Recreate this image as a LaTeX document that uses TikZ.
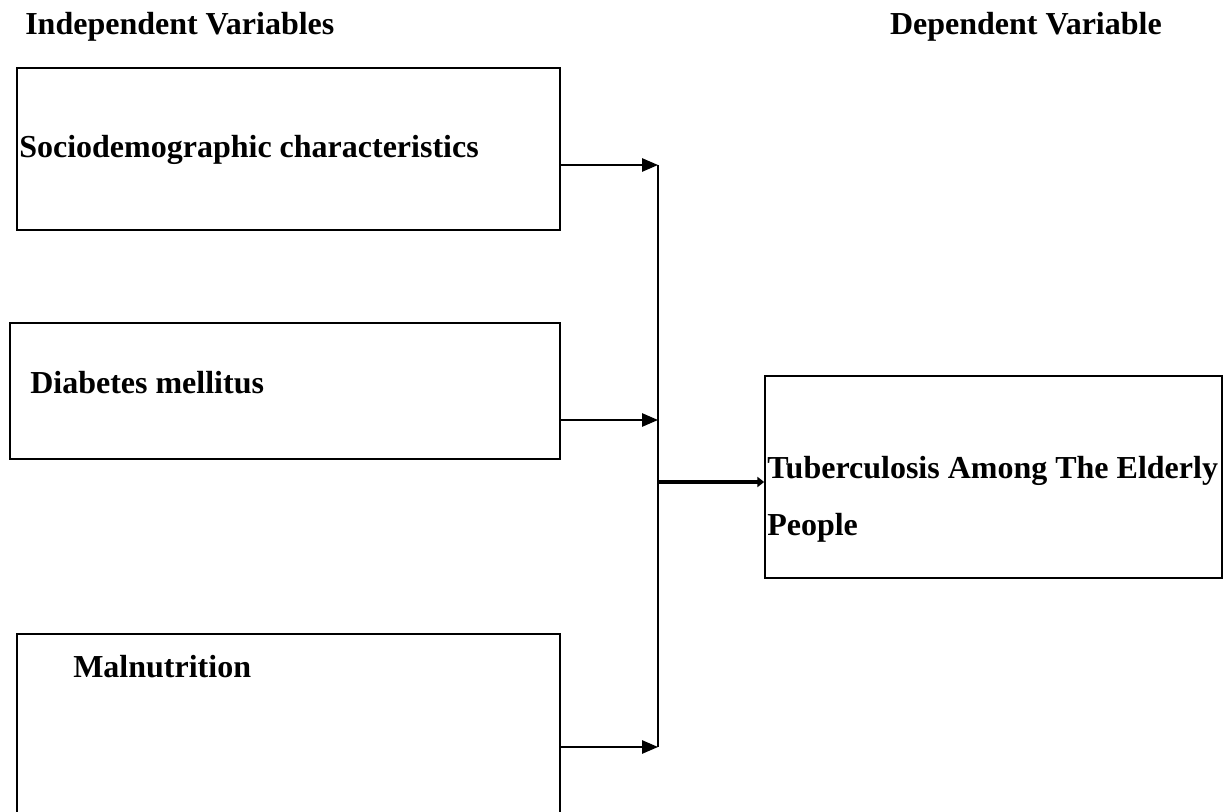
\documentclass[tikz,border=0pt]{standalone}
\usepackage{fontspec}
\setmainfont{Liberation Serif}
\usetikzlibrary{arrows.meta, positioning}

\tikzset{
	varbox/.style = {draw, line width=1.3pt, inner sep=0pt},
	vartext/.style = {anchor=west, inner sep=0pt, font=\fontsize{24}{43}\selectfont\bfseries},
	feed/.style = {line width=1.3pt, -{Triangle[length=12pt, width=10pt]}},
	mainfeed/.style = {line width=3.6pt, -{Triangle[length=5pt, width=7.5pt]}}
}

\begin{document}
\begin{tikzpicture} [x=0.75pt, y=-0.75pt]

	\useasboundingbox (0,0) rectangle (1230,812);

		% Define coordinates.

	%headings
	\node [vartext] (indep) at (25, 27) {Independent Variables};
	\node [vartext, anchor=east] (dep) at (1162, 27) {Dependent Variable};

	%junction line
	\coordinate (jTop) at (658, 165);
	\coordinate (jMid) at (658, 420);
	\coordinate (jBot) at (658, 747);
	\coordinate (jOut) at (658, 482);

% Draw boxes.

	\node [varbox, minimum width=543*0.75pt, minimum height=162*0.75pt] (socio) at (288.5, 149) {};
	\node [varbox, minimum width=550*0.75pt, minimum height=136*0.75pt] (diab) at (285, 391) {};
	\node [varbox, minimum width=543*0.75pt, minimum height=180*0.75pt] (maln) at (288.5, 724) {};
	\node [varbox, minimum width=457*0.75pt, minimum height=202*0.75pt] (tb) at (993.5, 477) {};

% Write texts.

	\node [vartext] (sociotext) at (19, 150) {Sociodemographic characteristics};
	\node [vartext] (diabtext) at (30, 383) {Diabetes mellitus};
	\node [vartext] (malntext) at (73, 667) {Malnutrition};
	\node [vartext, align=left] (tbtext) at (767, 499) {Tuberculosis Among The Elderly\\People};

% Draw lines.

	\draw [line width=1.3pt] (jTop) -- (jBot);

	\draw [feed] (socio.east |- jTop) -- (jTop);
	\draw [feed] (diab.east |- jMid) -- (jMid);
	\draw [feed] (maln.east |- jBot) -- (jBot);

	\draw [mainfeed] (jOut) -- (tb.west |- jOut);

\end{tikzpicture}
\end{document}
